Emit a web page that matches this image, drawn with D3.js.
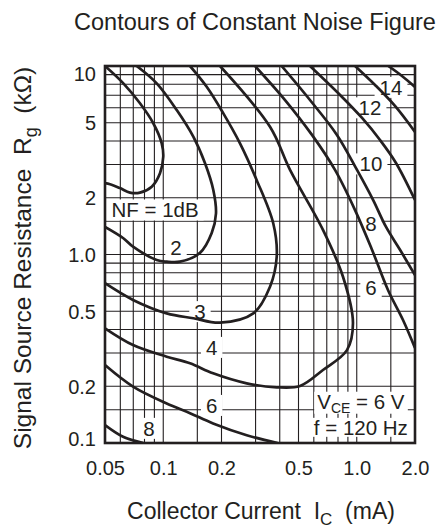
<!DOCTYPE html>
<html>
<head>
<meta charset="utf-8">
<script src="https://cdn.jsdelivr.net/npm/d3@7/dist/d3.min.js"></script>
<style>
  body { margin: 0; background: #fff; }
  svg { display: block; font-family: "Liberation Sans", Arial, Helvetica, sans-serif; }
  text { fill: #231f20; white-space: pre; }
</style>
</head>
<body>
<svg id="chart"></svg>
<script>
// axis ticks (Ic in mA, Rg in kOhm)
var xTicks = [0.05, 0.1, 0.2, 0.5, 1.0, 2.0],
    xTickLabels = ["0.05", "0.1", "0.2", "0.5", "1.0", "2.0"],
    yTicks = [0.1, 0.2, 0.5, 1, 2, 5, 10],
    yTickLabels = ["0.1", "0.2", "0.5", "1.0", "2", "5", "10"];

// log paper grid
var xGrid = [0.06, 0.07, 0.08, 0.09, 0.1, 0.15, 0.2, 0.3, 0.4, 0.5, 0.6, 0.7, 0.8, 0.9, 1.0, 1.5],
    yGrid = [0.15, 0.2, 0.3, 0.4, 0.5, 0.6, 0.7, 0.8, 0.9, 1, 1.5, 2, 3, 4, 5, 6, 7, 8, 9];

// contour points [Ic, Rg]
var nf1 = [[0.050, 10], [0.0622, 8.09], [0.0758, 6.34], [0.0888, 4.97], [0.0982, 3.89], [0.100, 3.30],
           [0.0962, 2.70], [0.0872, 2.29], [0.0758, 2.13], [0.0673, 2.13], [0.0598, 2.25], [0.0531, 2.36], [0.050, 2.39]];
var nf2 = [[0.0729, 10], [0.0925, 8.09], [0.1174, 5.84], [0.143, 4.22], [0.1644, 3.05], [0.1814, 2.20], [0.1873, 1.65],
           [0.178, 1.30], [0.1548, 1.02], [0.122, 0.916], [0.1042, 0.916], [0.0925, 0.935], [0.0698, 1.10], [0.0622, 1.22], [0.050, 1.40]];
var nf3 = [[0.1375, 10], [0.1677, 7.76], [0.2044, 5.61], [0.2492, 3.89], [0.3041, 2.48], [0.3704, 1.46], [0.3858, 0.973],
           [0.3562, 0.675], [0.292, 0.487], [0.1965, 0.435], [0.143, 0.459], [0.1042, 0.487], [0.0698, 0.574], [0.050, 0.704]];
var nf4 = [[0.1965, 10], [0.3562, 4.76], [0.452, 2.81], [0.669, 1.35], [0.849, 0.762], [0.956, 0.433], [0.890, 0.311],
           [0.669, 0.244], [0.509, 0.2007], [0.3858, 0.1975], [0.270, 0.2073], [0.181, 0.2343], [0.1375, 0.2647],
           [0.1042, 0.287], [0.0698, 0.331], [0.050, 0.406]];
var nf6 = [[0.298, 10], [0.426, 6.60], [0.587, 4.31], [0.772, 2.81], [0.980, 1.72], [1.199, 1.06], [1.450, 0.648], [1.734, 0.449], [2.0, 0.319]];
var nf6low = [[0.050, 0.259], [0.0698, 0.199], [0.1042, 0.162], [0.1375, 0.144], [0.181, 0.127], [0.270, 0.110], [0.39, 0.100]];
var nf8 = [[0.409, 10], [0.573, 6.60], [0.790, 4.31], [1.003, 2.81], [1.214, 1.95], [1.417, 1.40], [1.673, 1.06], [2.0, 0.778]];
var nf8low = [[0.050, 0.1246], [0.062, 0.108], [0.0789, 0.100]];
var nf10 = [[0.573, 10], [0.820, 7.02], [1.065, 5.30], [1.319, 4.05], [1.595, 3.06], [2.0, 1.945]];
var nf12 = [[0.980, 10], [1.243, 7.93], [1.576, 6.14], [2.0, 4.47]];
var nf14 = [[1.456, 10], [1.713, 8.85], [2.0, 7.74]];

var contours = [nf1, nf2, nf3, nf4, nf6, nf6low, nf8, nf8low, nf10, nf12, nf14];

// curve labels and where they sit [Ic, Rg]
var labelText = ["NF = 1dB", "2", "3", "4", "6", "8", "6", "8", "10", "12", "14"],
    labelPos = [[0.0907, 1.72], [0.1164, 1.083], [0.1548, 0.497], [0.178, 0.321], [0.178, 0.158], [0.0844, 0.1194],
                [1.185, 0.668], [1.185, 1.451], [1.185, 3.02], [1.171, 5.99], [1.503, 7.69]];

var margin = {top: 66, right: 28, bottom: 86, left: 105},
    W = 443, H = 529,
    width = W - margin.left - margin.right,
    height = H - margin.top - margin.bottom;

var svg = d3.select("#chart").attr("width", W).attr("height", H);

var x = d3.scaleLog().domain([0.05, 2.0]).range([0, width]),
    y = d3.scaleLog().domain([0.1, 10]).range([height, 0]);

svg.append("defs").append("clipPath")
    .attr("id", "clip")
    .append("rect")
    .attr("width", width)
    .attr("height", height);

var g = svg.append("g")
    .attr("transform", "translate(" + margin.left + "," + margin.top + ")");

// grid
g.append("g").selectAll("line")
    .data(xGrid)
    .enter().append("line")
    .attr("x1", function(d) { return x(d); })
    .attr("x2", function(d) { return x(d); })
    .attr("y1", 0).attr("y2", height)
    .attr("stroke", "#231f20").attr("stroke-width", 1.1);

g.append("g").selectAll("line")
    .data(yGrid)
    .enter().append("line")
    .attr("y1", function(d) { return y(d); })
    .attr("y2", function(d) { return y(d); })
    .attr("x1", 0).attr("x2", width)
    .attr("stroke", "#231f20").attr("stroke-width", 1.1);

// white boxes behind labels (cut the grid, not the curves)
var boxLayer = g.append("g");
var curveLayer = g.append("g").attr("clip-path", "url(#clip)");
var textLayer = g.append("g");

var line = d3.line()
    .x(function(d) { return x(d[0]); })
    .y(function(d) { return y(d[1]); })
    .curve(d3.curveCatmullRom.alpha(0.5));

curveLayer.selectAll("path")
    .data(contours)
    .enter().append("path")
    .attr("d", line)
    .attr("fill", "none")
    .attr("stroke", "#231f20")
    .attr("stroke-width", 2.7);

labelText.forEach(function(t, i) {
    var txt = textLayer.append("text")
        .attr("x", x(labelPos[i][0]))
        .attr("y", y(labelPos[i][1]))
        .attr("dy", "0.36em")
        .attr("text-anchor", "middle")
        .style("font-size", "20.5px")
        .text(t);
    var b = txt.node().getBBox();
    boxLayer.append("rect")
        .attr("x", b.x - 5).attr("y", b.y + 1)
        .attr("width", b.width + 10).attr("height", b.height - 2)
        .attr("fill", "#fff");
});

// test conditions
var cond = textLayer.append("text")
    .attr("x", x(1.05))
    .attr("y", y(0.152))
    .attr("text-anchor", "middle")
    .style("font-size", "20.5px");
cond.append("tspan").text("V");
cond.append("tspan").attr("dy", 4).style("font-size", "14px").text("CE");
cond.append("tspan").attr("dy", -4).text(" = 6 V");
var cond2 = textLayer.append("text")
    .attr("x", x(1.05))
    .attr("y", y(0.1105))
    .attr("text-anchor", "middle")
    .style("font-size", "20.5px")
    .text("f = 120 Hz");
[cond, cond2].forEach(function(t) {
    var b = t.node().getBBox();
    boxLayer.append("rect")
        .attr("x", b.x - 3).attr("y", b.y + 2)
        .attr("width", b.width + 6).attr("height", b.height - 4)
        .attr("fill", "#fff");
});

// frame
g.append("rect")
    .attr("width", width).attr("height", height)
    .attr("fill", "none")
    .attr("stroke", "#231f20")
    .attr("stroke-width", 2.6);

// axes
var xAxis = d3.axisBottom(x)
    .tickValues(xTicks)
    .tickFormat(function(d, i) { return xTickLabels[i]; })
    .tickSize(0);

var yAxis = d3.axisLeft(y)
    .tickValues(yTicks)
    .tickFormat(function(d, i) { return yTickLabels[i]; })
    .tickSize(0);

var gx = g.append("g")
    .attr("transform", "translate(0," + height + ")")
    .call(xAxis);
gx.select(".domain").remove();
gx.selectAll("text")
    .attr("y", 32).attr("dy", 0)
    .style("font-size", "20px")
    .style("font-family", "Liberation Sans, Arial, sans-serif")
    .attr("fill", "#231f20");

var gy = g.append("g").call(yAxis);
gy.select(".domain").remove();
gy.selectAll("text")
    .attr("x", -9)
    .attr("dy", function(d) { return d === 10 ? "0.7em" : (d === 0.1 ? "0.1em" : "0.36em"); })
    .style("font-size", "20px")
    .style("font-family", "Liberation Sans, Arial, sans-serif")
    .attr("fill", "#231f20");

// titles
svg.append("text")
    .attr("x", 255).attr("y", 30)
    .attr("text-anchor", "middle")
    .style("font-size", "23.5px")
    .text("Contours of Constant Noise Figure");

var xt = svg.append("text")
    .attr("x", 261).attr("y", 519)
    .attr("text-anchor", "middle")
    .style("font-size", "23px");
xt.append("tspan").text("Collector Current  I");
xt.append("tspan").attr("dy", 6).style("font-size", "17px").text("C");
xt.append("tspan").attr("dy", -6).text("  (mA)");

var yt = svg.append("text")
    .attr("transform", "translate(31,258) rotate(-90)")
    .attr("text-anchor", "middle")
    .style("font-size", "24.5px");
yt.append("tspan").text("Signal Source Resistance  R");
yt.append("tspan").attr("dy", 6).style("font-size", "18px").text("g");
yt.append("tspan").attr("dy", -6).text("  (k\u03A9)");
</script>
</body>
</html>
